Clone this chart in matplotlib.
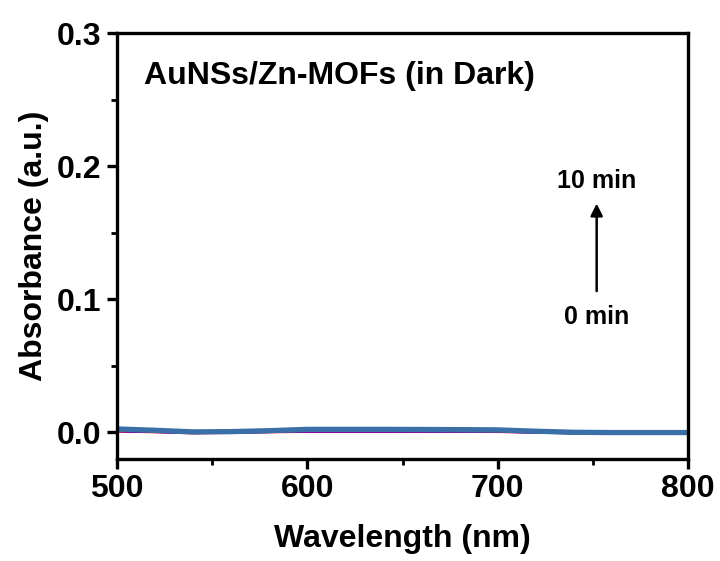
import matplotlib.pyplot as plt

plt.rcParams['font.family'] = ['Liberation Sans', 'DejaVu Sans']
plt.rcParams['font.weight'] = 'bold'

# wavelength grid (nm)
wavelength = [500, 520, 540, 560, 580, 600, 620, 640, 660, 680, 700, 720, 740, 760, 780, 800]

# absorbance spectra, 0 -> 10 min in dark
abs_0min = [0.0005, 0.0, -0.0008, -0.0005, 0.0, 0.0003, 0.0003, 0.0003, 0.0003, 0.0003, 0.0002, -0.0003, -0.0008, -0.001, -0.001, -0.001]
abs_2min = [0.0008, 0.0002, -0.0006, -0.0004, 0.0002, 0.0006, 0.0006, 0.0006, 0.0006, 0.0005, 0.0004, -0.0002, -0.0008, -0.001, -0.001, -0.001]
abs_4min = [0.001, 0.0004, -0.0004, -0.0002, 0.0004, 0.0008, 0.0008, 0.0008, 0.0008, 0.0007, 0.0006, 0.0, -0.0006, -0.0008, -0.0008, -0.0008]
abs_6min = [0.0012, 0.0006, -0.0002, 0.0, 0.0006, 0.001, 0.001, 0.001, 0.001, 0.0009, 0.0008, 0.0002, -0.0004, -0.0006, -0.0006, -0.0006]
abs_10min = [0.0025, 0.0015, 0.0003, 0.0005, 0.0012, 0.0022, 0.0022, 0.0022, 0.0021, 0.002, 0.0018, 0.0008, 0.0, -0.0002, -0.0002, -0.0002]

series = [abs_0min, abs_2min, abs_4min, abs_6min, abs_10min]
colors = ['#ff0000', '#0000ff', '#c000c0', '#808000', '#3a6fa8']
widths = [1.5, 1.5, 1.5, 1.5, 3.8]

fig = plt.figure(figsize=(7.2, 5.61), dpi=100)
ax = fig.add_axes([0.1625, 0.182, 0.7931, 0.759])

for y, c, w in zip(series, colors, widths):
    ax.plot(wavelength, y, color=c, lw=w)

ax.set_xlim(500, 800)
ax.set_ylim(-0.02, 0.3)
ax.set_xticks([500, 600, 700, 800])
ax.set_xticks([550, 650, 750], minor=True)
ax.set_yticks([0.0, 0.1, 0.2, 0.3])
ax.set_yticks([0.05, 0.15, 0.25], minor=True)
ax.set_yticklabels(['0.0', '0.1', '0.2', '0.3'])

for s in ax.spines.values():
    s.set_linewidth(2.4)

ax.tick_params(which='major', direction='out', length=7, width=2.4, labelsize=23, pad=4)
ax.tick_params(which='minor', direction='out', length=4, width=2.0)
ax.tick_params(top=False, right=False)

ax.set_xlabel('Wavelength (nm)', fontsize=23, fontweight='bold', labelpad=14)
ax.set_ylabel('Absorbance (a.u.)', fontsize=23, fontweight='bold', labelpad=6)

ax.text(514, 0.268, 'AuNSs/Zn-MOFs (in Dark)', fontsize=23, fontweight='bold', va='center')
ax.text(752, 0.189, '10 min', fontsize=18, fontweight='bold', ha='center', va='center')
ax.text(752, 0.087, '0 min', fontsize=18, fontweight='bold', ha='center', va='center')
ax.annotate('', xy=(752, 0.174), xytext=(752, 0.104),
            arrowprops=dict(arrowstyle='-|>', color='black', lw=1.8, mutation_scale=18))

fig.savefig('out.png', dpi=100)
